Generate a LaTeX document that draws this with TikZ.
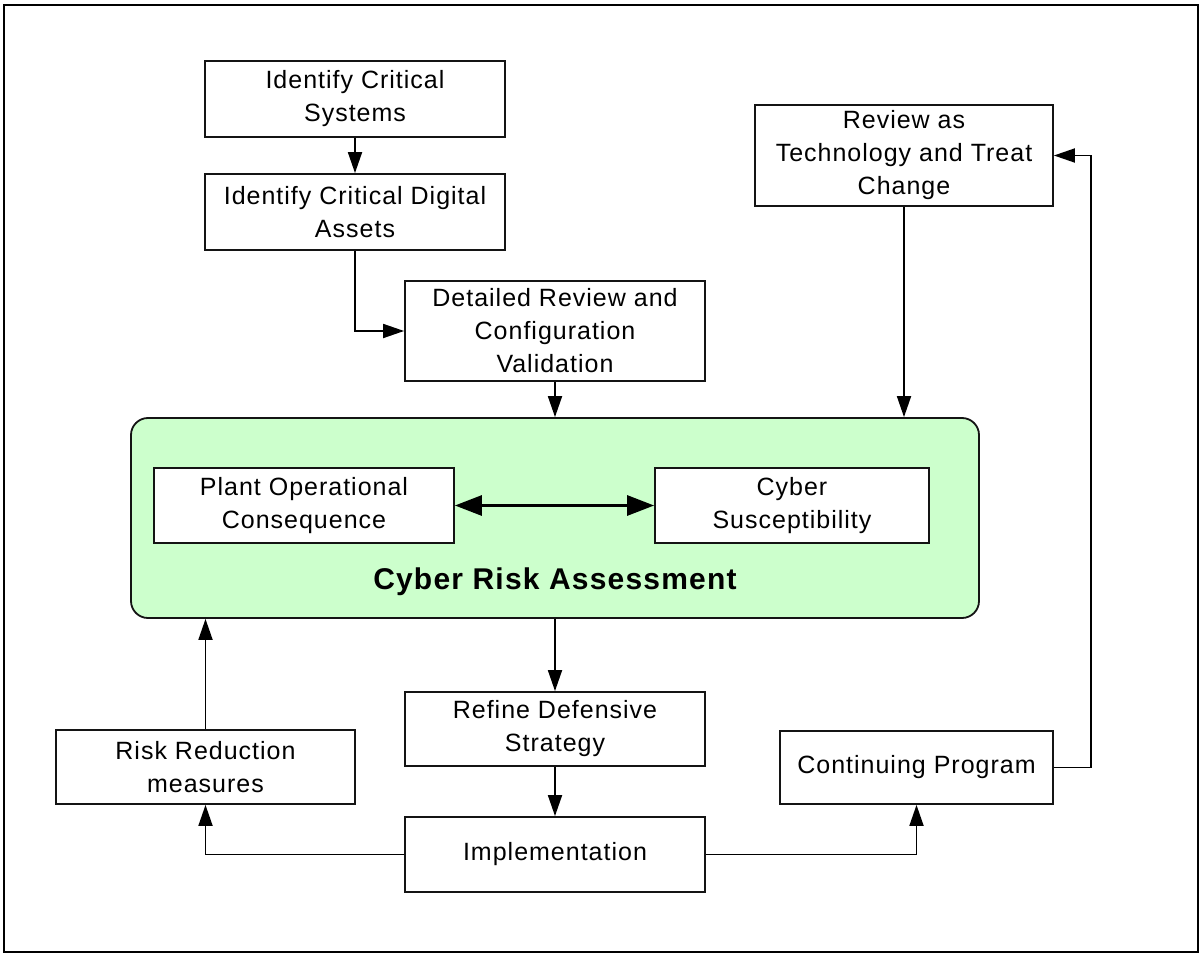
\documentclass[tikz,border=0pt]{standalone}
\usepackage{fontspec}
\setmainfont{Liberation Sans}[LetterSpace=4]
\usetikzlibrary{arrows.meta}
\definecolor{riskgreen}{RGB}{204,255,204}
\definecolor{lineink}{RGB}{20,20,20}
\tikzset{
  box/.style={draw=lineink, line width=1.8pt, fill=white, rectangle, inner sep=0pt,
    align=center, font=\fontsize{25}{33}\selectfont},
  greenbox/.style={draw=lineink, line width=1.8pt, fill=riskgreen, rectangle,
    rounded corners=17pt, inner sep=0pt},
  arr/.style={draw=black, line width=1.8pt, -{Triangle[length=21pt,width=14pt]}},
  dblarr/.style={draw=black, line width=3pt,
    {Triangle[length=27pt,width=20pt]}-{Triangle[length=27pt,width=20pt]}},
  title/.style={font=\fontsize{30}{36}\selectfont\bfseries, inner sep=0pt}
}
\begin{document}
\begin{tikzpicture}[x=1pt,y=-1pt]
\useasboundingbox (0,0) rectangle (1202,955);
\fill[white] (0,0) rectangle (1202,955);
\draw[line width=2.5pt, draw=black] (4,5) rectangle (1198,952);

\node[greenbox, minimum width=848pt, minimum height=200pt] (green) at (555,518) {};
\node[title] (ttl) at (555,582) {Cyber Risk Assessment};

\node[box, minimum width=300pt, minimum height=76pt] (ics) at (355,99) {Identify Critical\\Systems};
\node[box, minimum width=300pt, minimum height=76pt] (icda) at (355,212) {Identify Critical Digital\\Assets};
\node[box, minimum width=300pt, minimum height=100pt] (dr) at (555,331) {Detailed Review and\\Configuration\\Validation};
\node[box, minimum width=298pt, minimum height=101pt] (rev) at (904,155.5) {Review as\\Technology and Treat\\Change};
\node[box, minimum width=300pt, minimum height=75pt] (plant) at (304,505.5) {Plant Operational\\Consequence};
\node[box, minimum width=274pt, minimum height=75pt] (cyber) at (792,505.5) {Cyber\\Susceptibility};
\node[box, minimum width=300pt, minimum height=74pt] (refine) at (555,729) {Refine Defensive\\Strategy};
\node[box, minimum width=300pt, minimum height=75pt] (impl) at (555,854.5) {Implementation};
\node[box, minimum width=299pt, minimum height=74pt] (risk) at (205.5,767) {Risk Reduction\\measures};
\node[box, minimum width=273pt, minimum height=73pt] (cp) at (916.5,767.5) {Continuing Program};

\coordinate (bend) at (1091,767.5);

\draw[arr] (ics.south) -- (icda.north);
\draw[arr] (icda.south) |- (dr.west);
\draw[arr] (dr.south) -- (green.north);
\draw[arr] (rev.south) -- (rev.south |- green.north);
\draw[dblarr] (plant.east) -- (cyber.west);
\draw[arr] (green.south) -- (refine.north);
\draw[arr] (refine.south) -- (impl.north);
\draw[arr] (impl.west) -| (risk.south);
\draw[arr] (risk.north) -- (risk.north |- green.south);
\draw[arr] (impl.east) -| (cp.south);
\draw[arr] (cp.east) -- (bend) |- (rev.east);
\end{tikzpicture}
\end{document}
